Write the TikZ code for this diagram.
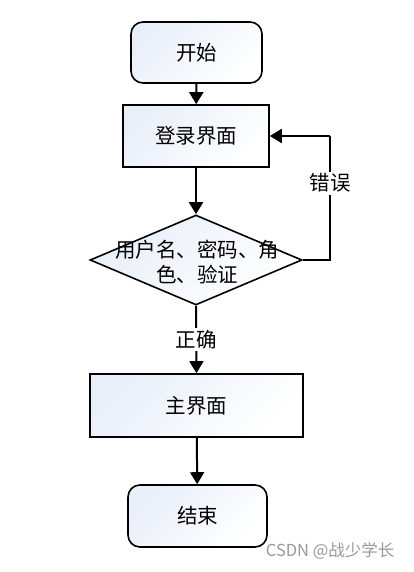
\documentclass[tikz,border=0pt]{standalone}
\usepackage{fontspec}
\setmainfont{Noto Sans CJK SC}
\usetikzlibrary{arrows.meta,shapes.geometric,positioning}
\definecolor{shadeblue}{RGB}{233,239,249}
\begin{document}
\begin{tikzpicture}[x=1pt,y=-1pt,
  every node/.style={font=\fontsize{20.5}{25}\selectfont},
  boxfill/.style={shading=axis,top color=shadeblue,bottom color=white,shading angle=45},
  termbox/.style={draw,line width=1.6pt,rounded corners=12pt,boxfill,minimum width=131pt,minimum height=61pt,inner sep=0pt},
  procbox/.style={draw,line width=1.6pt,boxfill,minimum height=62pt,inner sep=0pt},
  decbox/.style={draw,line width=1.6pt,diamond,boxfill,minimum width=212pt,minimum height=90pt,inner sep=0pt,aspect=2.36},
  conn/.style={line width=2pt,-{Triangle[length=12pt,width=14pt]}},
  lbl/.style={fill=white,inner sep=2pt}
]
\useasboundingbox[fill=white] (0,0) rectangle (414,572);
\node[termbox] (start) at (196.5,52.5) {开始};
\node[procbox,minimum width=146pt] (login) at (196,136) {登录界面};
\node[decbox] (check) at (196,260) {};
\node[align=center,inner sep=0pt] (checktxt) at (197,262) {用户名、密码、角\\色、验证};
\node[procbox,minimum width=213pt,minimum height=63pt] (main) at (196.5,405.5) {主界面};
\node[termbox,minimum width=139pt,minimum height=62pt] (end) at (197.5,516) {结束};
\coordinate (loopr) at (330,260);
\coordinate (loopt) at (330,136);
\draw[conn] (start) -- (login);
\draw[conn] (login) -- (check);
\draw[conn] (check.south) -- node[lbl] (ok) {正确} (main.north);
\draw[conn] (main) -- (end);
\draw[line width=2pt] (check.east) -- (loopr) -- node[lbl,pos=0.62] (err) {错误} (loopt);
\draw[conn] (loopt) -- (login.east);
\node[text=gray!80,font=\fontsize{16.5}{18}\selectfont,anchor=east] (wm) at (398,551) {CSDN @战少学长};
\end{tikzpicture}
\end{document}
